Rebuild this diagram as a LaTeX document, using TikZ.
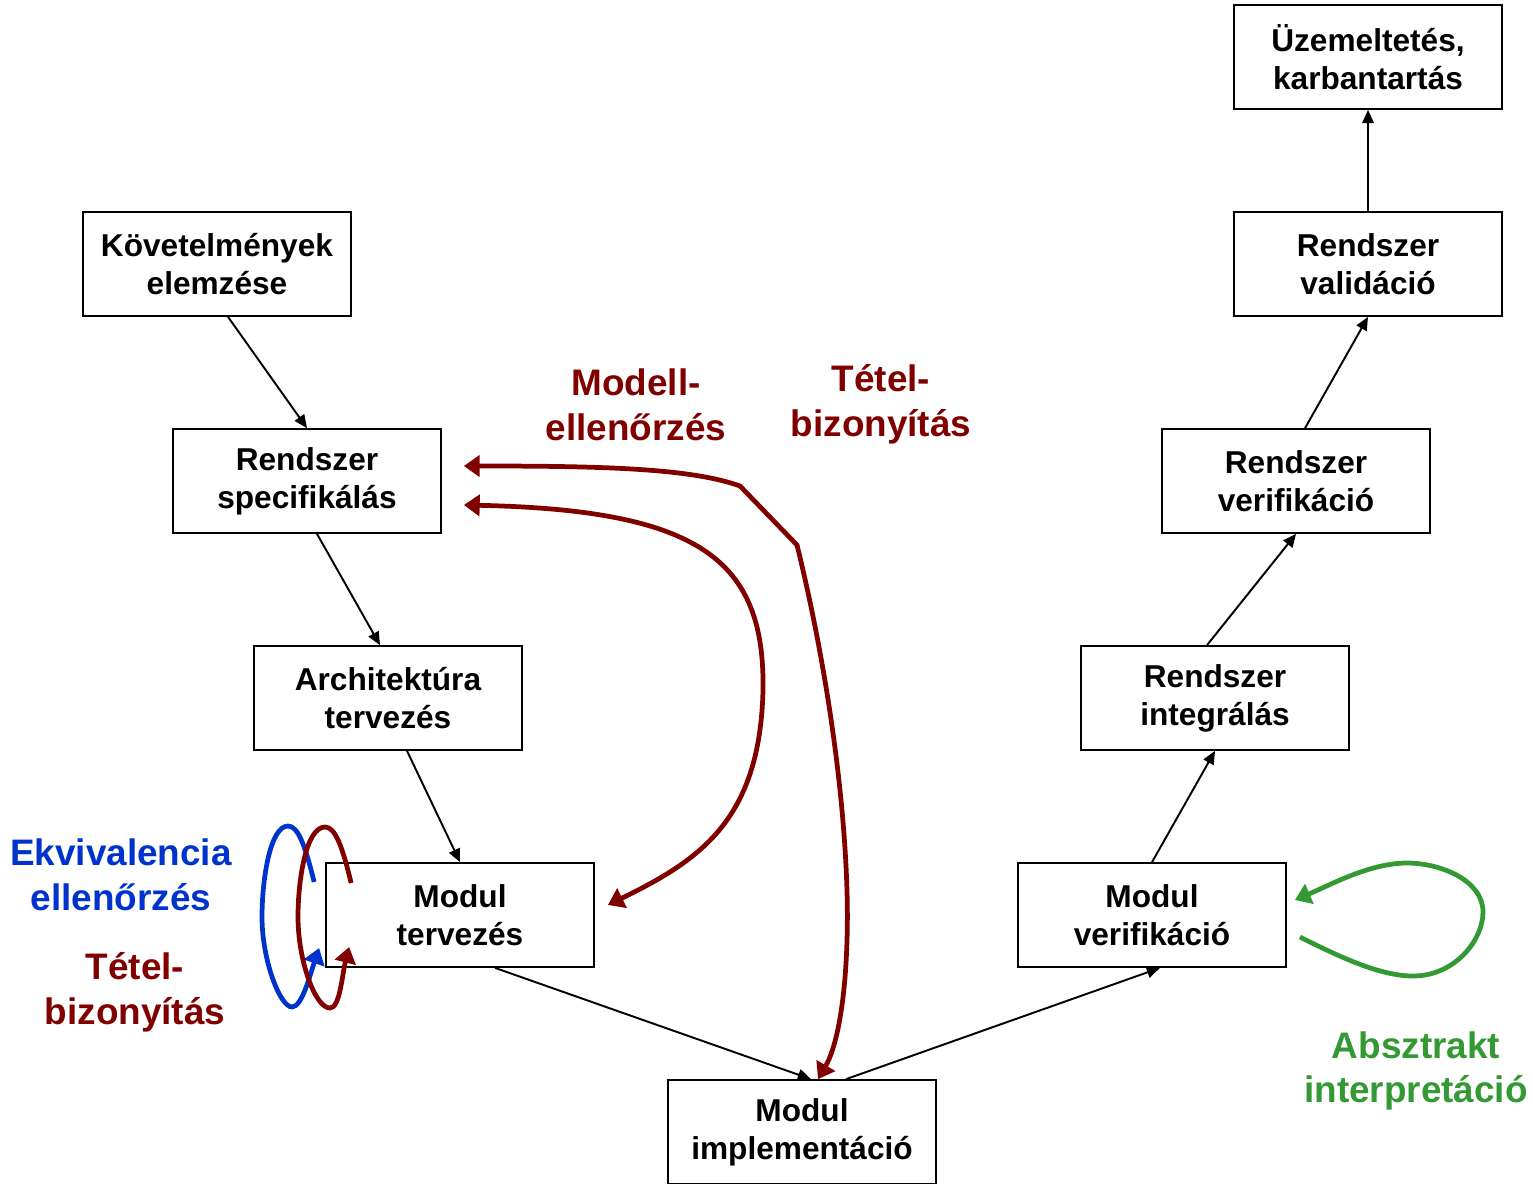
\documentclass[tikz,border=0pt]{standalone}
\usepackage{fontspec}
\setmainfont{Liberation Sans}
\usepackage{xcolor}
\usepackage{tikz}
\usetikzlibrary{arrows.meta,calc}
\definecolor{vred}{RGB}{128,0,0}
\definecolor{vblue}{RGB}{0,51,204}
\definecolor{vgreen}{RGB}{51,153,51}
\tikzset{
  box/.style={rectangle,draw,line width=1pt,fill=white,minimum width=5.36cm,minimum height=2.08cm,
    align=center,font=\bfseries\fontsize{18}{21.5}\selectfont},
  lbl/.style={align=center,font=\bfseries\fontsize{21}{25.5}\selectfont},
  flow/.style={line width=1.1pt,-{Triangle[length=7.5pt,width=6.5pt]}},
  meth/.style={line width=2.7pt,{Triangle[length=9pt,width=12pt]}-{Triangle[length=9pt,width=12pt]}},
  loop/.style={line width=2.7pt,-{Triangle[length=9pt,width=12pt]}},
}

\begin{document}
\begin{tikzpicture}[x=0.02cm,y=-0.02cm]
  \useasboundingbox (0,0) rectangle (1533,1183);
  % left branch of the V
  \node[box] (kov)  at (217,264)  {Követelmények\\elemzése};
  \node[box] (spec) at (307,481)  {Rendszer\\specifikálás};
  \node[box] (arch) at (388,698)  {Architektúra\\tervezés};
  \node[box] (mt)   at (460,915)  {Modul\\tervezés};
  \node[box] (impl) at (802,1132) {Modul\\implementáció};
  % right branch of the V
  \node[box] (mv)   at (1152,915) {Modul\\verifikáció};
  \node[box] (ri)   at (1215,698) {Rendszer\\integrálás};
  \node[box] (rv)   at (1296,481) {Rendszer\\verifikáció};
  \node[box] (val)  at (1368,264) {Rendszer\\validáció};
  \node[box] (uz)   at (1368,57)  {Üzemeltetés,\\karbantartás};

  \draw[flow] ($(kov.south)+(11,0)$) -- (spec.north);
  \draw[flow] ($(spec.south)+(10,0)$) -- ($(arch.north)+(-8,0)$);
  \draw[flow] ($(arch.south)+(19,0)$) -- (mt.north);
  \draw[flow] ($(mt.south)+(35,0)$) -- ($(impl.north)+(9,0)$);
  \draw[flow] ($(impl.north)+(44,0)$) -- ($(mv.south)+(8,0)$);
  \draw[flow] (mv.north) -- (ri.south);
  \draw[flow] ($(ri.north)+(-8,0)$) -- (rv.south);
  \draw[flow] ($(rv.north)+(9,0)$) -- (val.south);
  \draw[flow] (val.north) -- (uz.south);

  % formal methods
  \node[lbl,text=vred] (mc) at (636,405) {Modell-\\ellenőrzés};
  \node[lbl,text=vred] (tp) at (881,404) {Tétel-\\bizonyítás};
  \draw[meth,vred] ($(spec.east)+(22,-15)$) .. controls (600,466) and (690,468) .. (740,486)
    -- (797,545) .. controls (835,700) and (850,850) .. (847,940)
    .. controls (845,1010) and (835,1050) .. ($(impl.north)+(16,0)$);
  \draw[meth,vred] ($(spec.east)+(22,24)$) .. controls (700,510) and (765,560) .. (763,690)
    .. controls (760,820) and (700,860) .. ($(mt.east)+(13,-10)$);

  \node[lbl,text=vblue] (eq) at (121,875) {Ekvivalencia\\ellenőrzés};
  \node[lbl,text=vred] (tp2) at (135,992) {Tétel-\\bizonyítás};
  \draw[loop,vblue] ($(mt.west)+(-11,-33)$) .. controls (305,845) and (298,826) .. (288,826)
    .. controls (270,826) and (262,880) .. (262,917)
    .. controls (262,960) and (280,1007) .. (292,1007)
    .. controls (302,1007) and (310,975) .. ($(mt.west)+(-6,33)$);
  \draw[loop,vred] ($(mt.west)+(26,-32)$) .. controls (342,845) and (335,827) .. (325,827)
    .. controls (306,827) and (298,880) .. (298,917)
    .. controls (298,960) and (315,1008) .. (330,1008)
    .. controls (340,1008) and (342,975) .. ($(mt.west)+(24,32)$);

  \node[lbl,text=vgreen] (ai) at (1416,1071) {Absztrakt\\interpretáció};
  \draw[loop,vgreen] ($(mv.east)+(13,22)$) .. controls (1340,957) and (1380,976) .. (1413,976)
    .. controls (1455,976) and (1483,940) .. (1483,912)
    .. controls (1483,880) and (1440,863) .. (1407,863)
    .. controls (1370,863) and (1330,885) .. ($(mv.east)+(8,-15)$);
\end{tikzpicture}
\end{document}
